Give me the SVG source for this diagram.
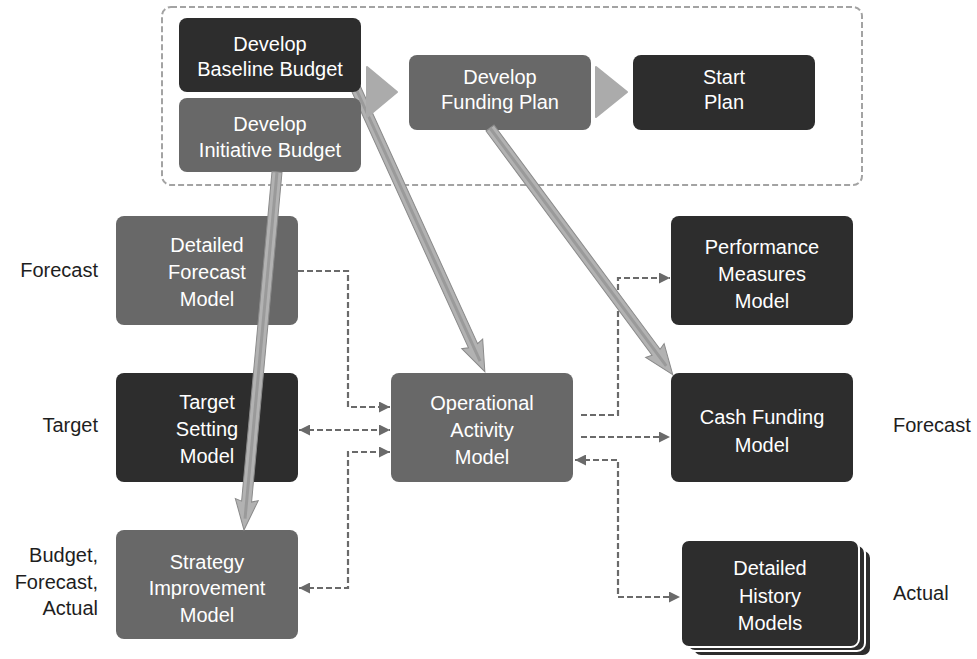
<svg xmlns="http://www.w3.org/2000/svg" width="977" height="659" viewBox="0 0 977 659">
  <style>
    .dark { fill: #2d2d2d; }
    .mid { fill: #686868; }
    .ntext { fill: #ffffff; font-family: "Liberation Sans", Arial, sans-serif; font-size: 20px; text-anchor: middle; }
    .label { fill: #1e1e1e; font-family: "Liberation Sans", Arial, sans-serif; font-size: 20px; }
    .dash { fill: none; stroke: #6a6a6a; stroke-width: 2.2; stroke-dasharray: 6 3; }
    .flow { fill: #b2b2b2; stroke: #8a8a8a; stroke-width: 1; }
    .flowcore { fill: none; stroke: #9a9a9a; stroke-width: 3; }
    .chevron { fill: #ababab; stroke: #ababab; stroke-width: 2; stroke-linejoin: round; }
    .stack { fill: #2d2d2d; stroke: #ffffff; stroke-width: 2; }
  </style>
  <defs>
    <marker id="ah" viewBox="0 0 10 10" refX="10" refY="5" markerWidth="11" markerHeight="11" markerUnits="userSpaceOnUse" orient="auto-start-reverse">
      <path d="M0,0 L10,5 L0,10 Z" fill="#6a6a6a"/>
    </marker>
  </defs>

  <rect width="977" height="659" fill="#ffffff"/>

  <!-- planning group boundary -->
  <rect x="162" y="7" width="700" height="178" rx="9" fill="none" stroke="#a3a3a3" stroke-width="2" stroke-dasharray="6 3"/>

  <!-- flow that emerges from behind the budget boxes -->
  <g id="connectors-under">
    <g transform="translate(352,80) rotate(65.51)">
      <path class="flow" d="M0,-5 L292,-5 L290,-11.5 L320.5,0 L290,11.5 L292,5 L0,5 Z"/>
      <line class="flowcore" x1="0" y1="0" x2="309" y2="0"/>
    </g>
  </g>

  <!-- nodes -->
  <g id="baseline-budget">
    <rect class="dark" x="179" y="18" width="182" height="74" rx="8"/>
    <text class="ntext" x="270" y="51">Develop</text>
    <text class="ntext" x="270" y="76">Baseline Budget</text>
  </g>
  <g id="initiative-budget">
    <rect class="mid" x="179" y="98" width="182" height="74" rx="8"/>
    <text class="ntext" x="270" y="131">Develop</text>
    <text class="ntext" x="270" y="157">Initiative Budget</text>
  </g>
  <g id="funding-plan">
    <rect class="mid" x="409" y="55" width="182" height="75" rx="8"/>
    <text class="ntext" x="500" y="84">Develop</text>
    <text class="ntext" x="500" y="109">Funding Plan</text>
  </g>
  <g id="start-plan">
    <rect class="dark" x="633" y="55" width="182" height="75" rx="8"/>
    <text class="ntext" x="724" y="84">Start</text>
    <text class="ntext" x="724" y="109">Plan</text>
  </g>
  <g id="detailed-forecast">
    <rect class="mid" x="116" y="216" width="182" height="109" rx="8"/>
    <text class="ntext" x="207" y="252">Detailed</text>
    <text class="ntext" x="207" y="279">Forecast</text>
    <text class="ntext" x="207" y="306">Model</text>
  </g>
  <g id="target-setting">
    <rect class="dark" x="116" y="373" width="182" height="109" rx="8"/>
    <text class="ntext" x="207" y="409">Target</text>
    <text class="ntext" x="207" y="436">Setting</text>
    <text class="ntext" x="207" y="463">Model</text>
  </g>
  <g id="strategy-improvement">
    <rect class="mid" x="116" y="530" width="182" height="109" rx="8"/>
    <text class="ntext" x="207" y="569">Strategy</text>
    <text class="ntext" x="207" y="595">Improvement</text>
    <text class="ntext" x="207" y="622">Model</text>
  </g>
  <g id="operational-activity">
    <rect class="mid" x="391" y="373" width="182" height="109" rx="8"/>
    <text class="ntext" x="482" y="410">Operational</text>
    <text class="ntext" x="482" y="437">Activity</text>
    <text class="ntext" x="482" y="464">Model</text>
  </g>
  <g id="performance-measures">
    <rect class="dark" x="671" y="216" width="182" height="109" rx="8"/>
    <text class="ntext" x="762" y="254">Performance</text>
    <text class="ntext" x="762" y="281">Measures</text>
    <text class="ntext" x="762" y="308">Model</text>
  </g>
  <g id="cash-funding">
    <rect class="dark" x="671" y="373" width="182" height="109" rx="8"/>
    <text class="ntext" x="762" y="424">Cash Funding</text>
    <text class="ntext" x="762" y="452">Model</text>
  </g>
  <g id="detailed-history">
    <rect class="stack" x="693" y="550" width="178" height="106" rx="8"/>
    <rect class="stack" x="687" y="545" width="178" height="106" rx="8"/>
    <rect class="stack" x="681" y="540" width="178" height="107" rx="8"/>
    <text class="ntext" x="770" y="575">Detailed</text>
    <text class="ntext" x="770" y="603">History</text>
    <text class="ntext" x="770" y="630">Models</text>
  </g>

  <!-- row labels -->
  <g id="labels">
    <text class="label" x="98" y="277" text-anchor="end">Forecast</text>
    <text class="label" x="98" y="432" text-anchor="end">Target</text>
    <text class="label" x="98" y="562" text-anchor="end">Budget,</text>
    <text class="label" x="98" y="589" text-anchor="end">Forecast,</text>
    <text class="label" x="98" y="615" text-anchor="end">Actual</text>
    <text class="label" x="893" y="432">Forecast</text>
    <text class="label" x="893" y="600">Actual</text>
  </g>

  <!-- connectors -->
  <g id="connectors">
    <!-- data links -->
    <path class="dash" d="M298,271 H348 V407 H390" marker-end="url(#ah)"/>
    <path class="dash" d="M299,430 H390" marker-start="url(#ah)" marker-end="url(#ah)"/>
    <path class="dash" d="M299,588 H348 V452 H390" marker-start="url(#ah)" marker-end="url(#ah)"/>
    <path class="dash" d="M581,415 H618 V278 H670" marker-end="url(#ah)"/>
    <path class="dash" d="M581,437 H670" marker-end="url(#ah)"/>
    <path class="dash" d="M575,460 H618 V597 H680" marker-start="url(#ah)" marker-end="url(#ah)"/>

    <!-- process flows -->
    <g transform="translate(277,172) rotate(95.27)">
      <path class="flow" d="M0,-5 L331,-5 L329,-11.5 L359.5,0 L329,11.5 L331,5 L0,5 Z"/>
      <line class="flowcore" x1="0" y1="0" x2="348" y2="0"/>
    </g>
    <g transform="translate(490,128) rotate(53.47)">
      <path class="flow" d="M0,-5 L279,-5 L277,-11.5 L307,0 L277,11.5 L279,5 L0,5 Z"/>
      <line class="flowcore" x1="0" y1="0" x2="296" y2="0"/>
    </g>

    <!-- sequence chevrons -->
    <path class="chevron" d="M367,67 L397,92 L367,117 Z"/>
    <path class="chevron" d="M596,67 L627,92 L596,117 Z"/>
  </g>
</svg>
